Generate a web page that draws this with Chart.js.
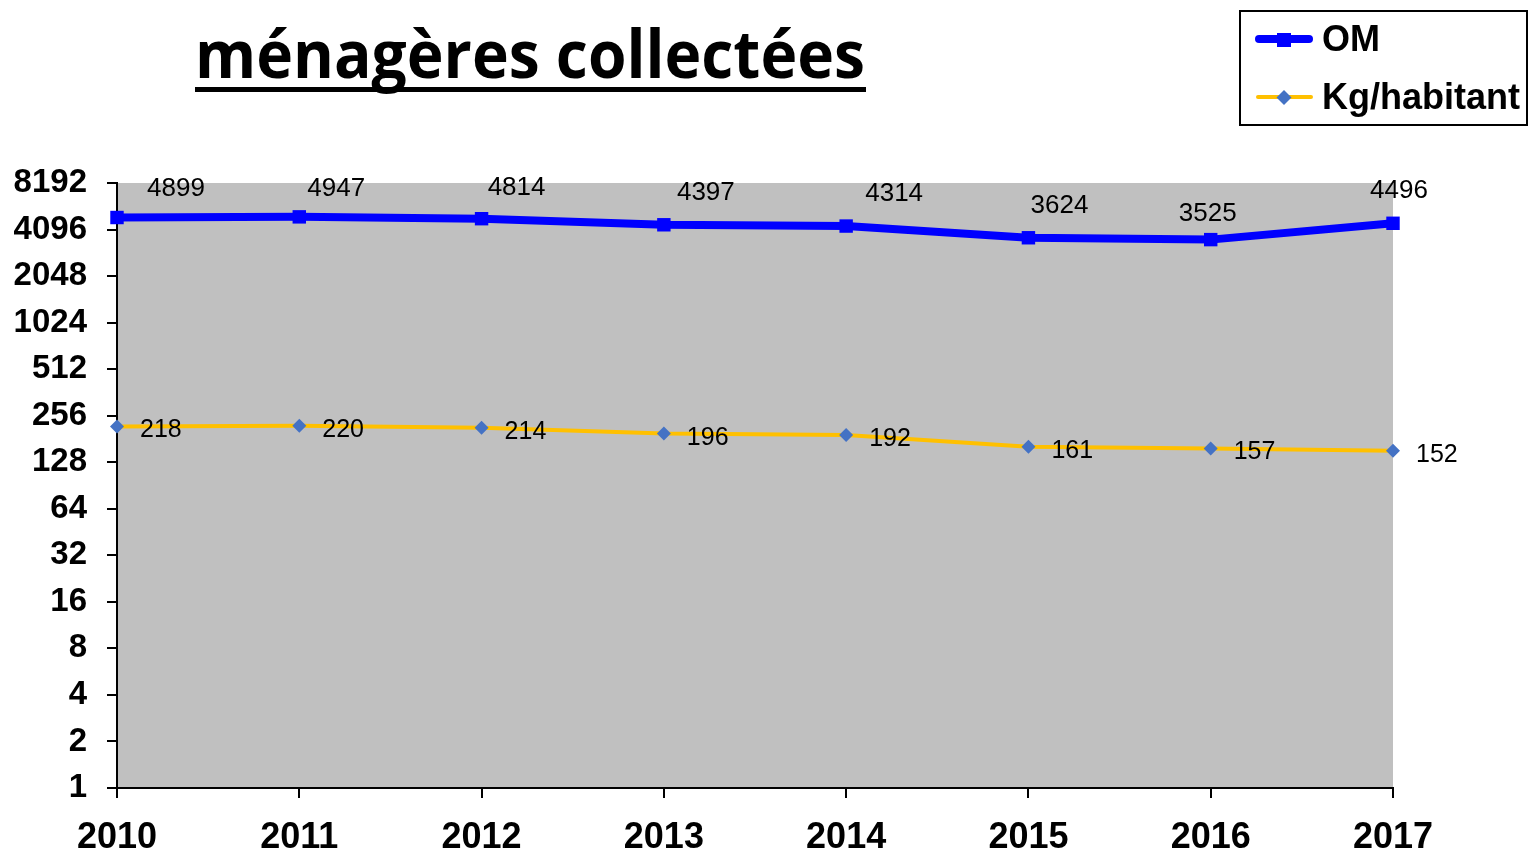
<!DOCTYPE html>
<html>
<head>
<meta charset="utf-8">
<script src="https://cdn.jsdelivr.net/npm/chart.js@4/dist/chart.umd.min.js"></script>
<style>
  html, body { margin: 0; padding: 0; background: #fff; }
  #wrap { width: 1529px; height: 849px; }
</style>
</head>
<body>
<div id="wrap"><canvas id="myChart"></canvas></div>
<script>
// donnees
var annees = ['2010', '2011', '2012', '2013', '2014', '2015', '2016', '2017'];
var tonnes_om = [4899, 4947, 4814, 4397, 4314, 3624, 3525, 4496];
var kg_habitant = [218, 220, 214, 196, 192, 161, 157, 152];
var graduations = [1, 2, 4, 8, 16, 32, 64, 128, 256, 512, 1024, 2048, 4096, 8192];
var titre = 'ménagères collectées';

// decalage des etiquettes OM (placees a la main dans l'original)
var decalage_om_x = [59, 37, 35, 42, 48, 31, -3, 6];
var decalage_om_y = [-29, -28, -31, -32, -32, -32, -26, -32];

var ctx = document.getElementById('myChart');

const fondGris = {
  id: 'fondGris',
  beforeDraw(chart) {
    var a = chart.chartArea, c = chart.ctx;
    c.save();
    c.fillStyle = '#c0c0c0';
    c.fillRect(a.left, a.top, a.right - a.left, a.bottom - a.top);
    c.restore();
  }
};

const etiquettes = {
  id: 'etiquettes',
  afterDatasetsDraw(chart) {
    var c = chart.ctx;
    c.save();
    c.fillStyle = '#000';
    c.font = '26px "Liberation Sans", Arial, sans-serif';
    c.textAlign = 'center';
    c.textBaseline = 'middle';
    chart.getDatasetMeta(0).data.forEach(function (pt, i) {
      c.fillText(String(tonnes_om[i]), pt.x + decalage_om_x[i], pt.y + decalage_om_y[i]);
    });
    c.font = '25px "Liberation Sans", Arial, sans-serif';
    c.textAlign = 'left';
    chart.getDatasetMeta(1).data.forEach(function (pt, i) {
      c.fillText(String(kg_habitant[i]), pt.x + 23, pt.y + 4);
    });
    c.restore();
  }
};

const titreLegende = {
  id: 'titreLegende',
  afterDraw(chart) {
    var c = chart.ctx;
    c.save();
    // titre souligne
    c.fillStyle = '#000';
    c.font = 'bold 67px "Open Sans", sans-serif';
    c.textBaseline = 'alphabetic';
    var w = c.measureText(titre).width;
    c.translate(195, 78);
    c.scale(670 / w, 1);
    c.fillText(titre, 0, 0);
    c.restore();
    c.save();
    c.fillStyle = '#000';
    c.fillRect(195, 87, 671, 5);

    // legende
    c.strokeStyle = '#000';
    c.lineWidth = 2;
    c.strokeRect(1240, 11, 287, 114);

    c.lineCap = 'round';
    c.strokeStyle = '#0000ff';
    c.lineWidth = 8;
    c.beginPath(); c.moveTo(1259, 39); c.lineTo(1309, 39); c.stroke();
    c.fillStyle = '#0000ff';
    c.fillRect(1277, 33, 14, 14);

    c.strokeStyle = '#ffc000';
    c.lineWidth = 4;
    c.beginPath(); c.moveTo(1258, 97); c.lineTo(1311, 97); c.stroke();
    c.fillStyle = '#4472c4';
    c.beginPath();
    c.moveTo(1284, 90); c.lineTo(1291.5, 97.5); c.lineTo(1284, 105); c.lineTo(1276.5, 97.5);
    c.closePath(); c.fill();

    c.fillStyle = '#000';
    c.font = 'bold 36px "Liberation Sans", Arial, sans-serif';
    c.textBaseline = 'middle';
    c.fillText('OM', 1322, 41);
    c.fillText('Kg/habitant', 1322, 99);
    c.restore();
  }
};

const config = {
  type: 'line',
  data: {
    labels: annees,
    datasets: [{
      label: 'OM',
      data: tonnes_om,
      borderColor: '#0000ff',
      backgroundColor: '#0000ff',
      borderWidth: 8,
      pointStyle: 'rect',
      pointRadius: 9.5,
      pointBorderWidth: 0,
      pointBackgroundColor: '#0000ff',
      tension: 0,
      clip: false
    }, {
      label: 'Kg/habitant',
      data: kg_habitant,
      borderColor: '#ffc000',
      backgroundColor: '#4472c4',
      borderWidth: 4,
      pointStyle: 'rectRot',
      pointRadius: 7,
      pointBorderWidth: 0,
      pointBackgroundColor: '#4472c4',
      tension: 0,
      clip: false
    }]
  },
  options: {
    responsive: true,
    maintainAspectRatio: false,
    animation: false,
    layout: { padding: { top: 183, right: 136, left: 0, bottom: 0 } },
    plugins: {
      legend: { display: false },
      tooltip: { enabled: false }
    },
    scales: {
      x: {
        offset: false,
        grid: { drawOnChartArea: false, color: '#000', lineWidth: 2, tickLength: 10 },
        border: { color: '#000', width: 2 },
        ticks: {
          color: '#000',
          padding: 18,
          maxRotation: 0,
          font: { family: '"Liberation Sans", Arial, sans-serif', size: 36, weight: 'bold' }
        },
        afterFit(s) { s.height = 61; }
      },
      y: {
        type: 'logarithmic',
        min: 1,
        max: 8192,
        grid: { drawOnChartArea: false, color: '#000', lineWidth: 2, tickLength: 10 },
        border: { color: '#000', width: 2 },
        afterBuildTicks(s) { s.ticks = graduations.map(function (v) { return { value: v }; }); },
        ticks: {
          color: '#000',
          padding: 20,
          autoSkip: false,
          callback: function (v) { return String(v); },
          font: { family: '"Liberation Sans", Arial, sans-serif', size: 33, weight: 'bold', lineHeight: 1 }
        },
        afterFit(s) { s.width = 117; }
      }
    }
  },
  plugins: [fondGris, etiquettes, titreLegende]
};

const myChart = new Chart(ctx, config);
</script>
</body>
</html>
